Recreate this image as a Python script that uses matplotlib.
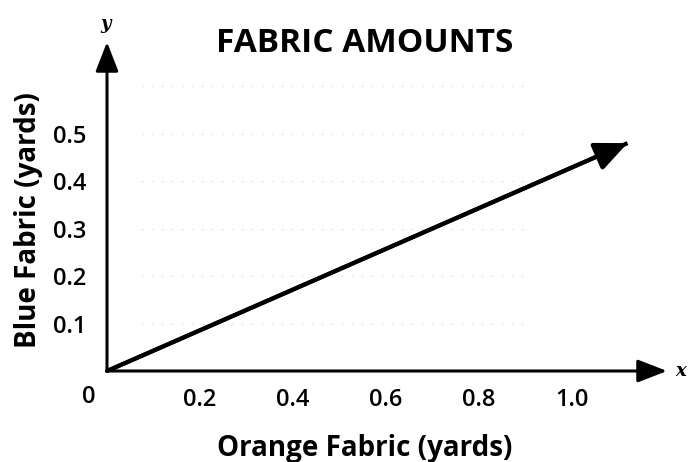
import matplotlib
matplotlib.use("Agg")
import matplotlib.pyplot as plt

# data
line_x = [0.0, 1.12]
line_y = [0.0, 0.48]
x_ticks = [0.2, 0.4, 0.6, 0.8, 1.0]
x_labels = ["0.2", "0.4", "0.6", "0.8", "1.0"]
y_ticks = [0.1, 0.2, 0.3, 0.4, 0.5]
y_labels = ["0.1", "0.2", "0.3", "0.4", "0.5"]
grid_levels = [0.1, 0.2, 0.3, 0.4, 0.5, 0.6]

plt.rcParams["font.family"] = ["Open Sans", "DejaVu Sans"]

fig = plt.figure(figsize=(6.88, 4.62), dpi=100)
ax = fig.add_axes([107 / 688, 91 / 462, 560 / 688, 329 / 462])
ax.set_xlim(0, 1.205)
ax.set_ylim(0, 0.693)

for s in ax.spines.values():
    s.set_visible(False)

# faint remains of grid lines
for g in grid_levels:
    ax.axhline(g, xmin=0.06, xmax=0.75, color="#e6e6e6", lw=0.8, ls=(0, (2, 7)), zorder=0)

# axes with arrow heads
arrow = dict(arrowstyle="-|>,head_length=0.9,head_width=0.35", color="black",
             lw=2.2, shrinkA=0, shrinkB=0, mutation_scale=20)
ax.annotate("", xy=(1, 0), xytext=(0, 0), xycoords="axes fraction",
            arrowprops=arrow, annotation_clip=False)
ax.annotate("", xy=(0, 1), xytext=(0, 0), xycoords="axes fraction",
            arrowprops=arrow, annotation_clip=False)

# the line
ax.plot(line_x, line_y, color="black", lw=3, solid_capstyle="butt")
ax.annotate("", xy=(line_x[1], line_y[1]), xytext=(line_x[0], line_y[0]),
            arrowprops=dict(arrowstyle="-|>,head_length=0.9,head_width=0.4",
                            color="black", lw=3, shrinkA=0, shrinkB=0,
                            mutation_scale=22))

ax.set_xticks(x_ticks)
ax.set_xticklabels(x_labels, fontsize=17, fontweight="semibold")
ax.set_yticks(y_ticks)
ax.set_yticklabels(y_labels, fontsize=17, fontweight="semibold")
ax.tick_params(length=0, pad=12)
ax.tick_params(axis="y", pad=15)

ax.text(-0.04, -0.03, "0", ha="center", va="top", fontsize=17, fontweight="semibold")
ax.text(1.222, 0.0, "x", ha="left", va="center", fontsize=13, fontweight="bold",
        style="italic", family="DejaVu Serif")
ax.text(-0.002, 0.73, "y", ha="center", va="center", fontsize=13, fontweight="bold",
        style="italic", family="DejaVu Serif")

ax.set_xlabel("Orange Fabric (yards)", fontsize=20, fontweight="bold")
ax.set_ylabel("Blue Fabric (yards)", fontsize=20, fontweight="bold")
ax.xaxis.set_label_coords(0.46, -0.19)
ax.yaxis.set_label_coords(-0.115, 0.459)
ax.text(0.46, 0.97, "FABRIC AMOUNTS", transform=ax.transAxes, ha="center",
        va="baseline", fontsize=24, fontweight="bold")

fig.savefig("out.png", dpi=100)
